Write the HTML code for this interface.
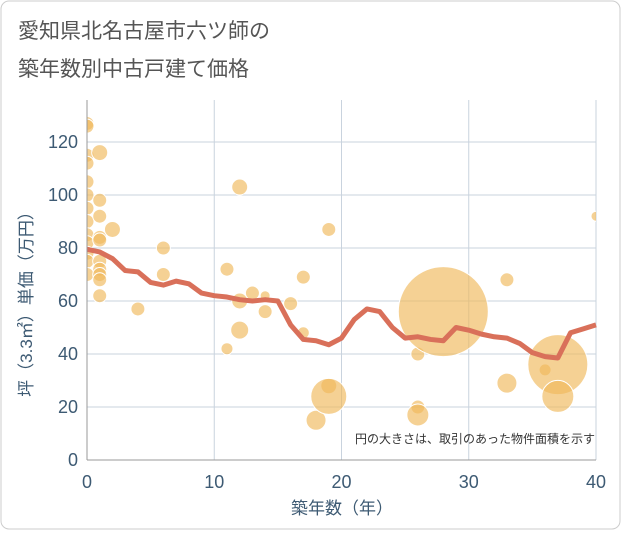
<!DOCTYPE html>
<html><head><meta charset="utf-8"><style>
body{margin:0;background:#fff;font-family:"Liberation Sans","Noto Sans CJK JP",sans-serif}
</style></head><body>
<svg width="621" height="530" xmlns="http://www.w3.org/2000/svg" font-family="Liberation Sans, Noto Sans CJK JP, sans-serif">
<rect x="1" y="1" width="619" height="528" rx="8" fill="#fff" stroke="#ccc"/>
<text x="18" y="38" font-size="21" fill="#555">愛知県北名古屋市六ツ師の</text>
<text x="18" y="76" font-size="21" fill="#555">築年数別中古戸建て価格</text>
<g id="grid"></g>
<g id="bubbles"></g>
<g id="line"></g>
<g id="axes"></g>
<text x="595" y="443" font-size="12" fill="#333" text-anchor="end">円の大きさは、取引のあった物件面積を示す</text>
<text x="342" y="514" font-size="17" fill="#3d5a73" text-anchor="middle">築年数（年）</text>
<text transform="translate(32,300) rotate(-90)" font-size="17" fill="#3d5a73" text-anchor="middle">坪（3.3㎡）単価（万円）</text>
</svg>
<script>
const xTicks=[0,10,20,30,40];
const yTicks=[0,20,40,60,80,100,120];
const bubbleX=[0,0,0,0,0,0,0,0,0,0,0,0,0,1,1,1,1,1,1,1,1,1,1,2,4,6,6,11,11,12,12,12,13,14,14,16,17,17,18,19,19,19,26,26,26,28,33,33,36,37,37,40];
const bubbleY=[127,126,115,112,105,100,95,90,85,82,78,75,70,116,98,92,84,83,75,72,70,68,62,87,57,80,70,72,42,103,60,49,63,62,56,59,69,48,15,87,28,24,40,20,17,56,68,29,34,36,24,92];
const bubbleR=[7,7,7,7,7,7,7,7,7,7,7,7,7,8,7,7,7,7,7,7,7,7,7,8,7,7,7,7,6,8,8,9,7,5,7,7,7,6,10,7,8,18,7,7,11,45,7,10,6,30,16,5];
const lineX=[0,1,2,3,4,5,6,7,8,9,10,11,12,13,14,15,16,17,18,19,20,21,22,23,24,25,26,27,28,29,30,31,32,33,34,35,36,37,38,39,40];
const lineY=[79.5,78.5,76,71.5,71,67,66,67.5,66.5,63,62,61.5,60.5,60,60.5,60,51,45.5,45,43.5,46,53,57,56,50,46,46.5,45.5,45,50,49,47.5,46.5,46,44,40.5,39,38.5,48,49.5,51];
const X0=87,X1=596,Y0=460,PT=100;
const sx=v=>X0+(v/40)*(X1-X0);
const sy=v=>Y0-v*(318/120);
const NS="http://www.w3.org/2000/svg";
function mk(t,a,p){const e=document.createElementNS(NS,t);for(const k in a)e.setAttribute(k,a[k]);p.appendChild(e);return e;}
const g=document.getElementById('grid'),b=document.getElementById('bubbles'),l=document.getElementById('line'),ax=document.getElementById('axes');
yTicks.forEach(v=>{const e=mk('line',{x1:X0,x2:X1,y1:sy(v),y2:sy(v),stroke:'#c9d3de','stroke-width':1},g);


const t=mk('text',{x:78,y:sy(v)+6,'font-size':18,fill:'#3d5a73','text-anchor':'end'},ax);t.textContent=v;

});
xTicks.forEach(v=>{const e=mk('line',{x1:sx(v),x2:sx(v),y1:PT,y2:Y0,stroke:'#c9d3de','stroke-width':1},g);


const t=mk('text',{x:sx(v),y:488,'font-size':18,fill:'#3d5a73','text-anchor':'middle'},ax);t.textContent=v;

});
const a1=mk('line',{x1:X0,x2:X0,y1:PT,y2:Y0,stroke:'#999'},ax);


const a2=mk('line',{x1:X0,x2:X1,y1:Y0,y2:Y0,stroke:'#999'},ax);


const clip=mk('clipPath',{id:'pc'},document.querySelector('svg'));mk('rect',{x:X0,y:PT,width:X1-X0,height:Y0-PT},clip);
b.setAttribute('clip-path','url(#pc)');
bubbleX.forEach((x,i)=>{const c=mk('circle',{cx:sx(x),cy:sy(bubbleY[i]),r:bubbleR[i],fill:'#f0b85a','fill-opacity':0.65,stroke:'#fff','stroke-width':1},b);

});
const p=mk('polyline',{points:lineX.map((x,i)=>sx(x)+','+sy(lineY[i])).join(' '),fill:'none',stroke:'#d9705a','stroke-width':5,'stroke-linejoin':'round'},l);


</script>
</body></html>
